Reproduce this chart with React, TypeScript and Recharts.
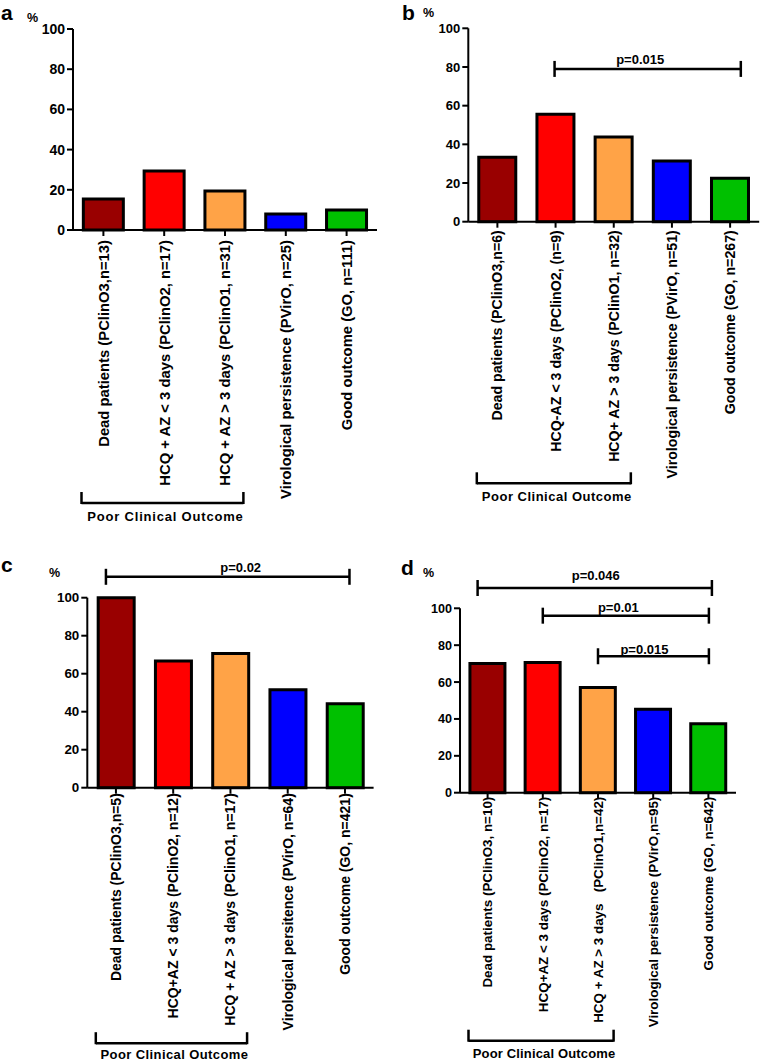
import React from 'react';
import { BarChart, Bar, XAxis, YAxis, Cell, ReferenceLine, ReferenceArea } from 'recharts';

const FONT = '"Liberation Sans", Arial, Helvetica, sans-serif';

const groupColors = ['#990000', '#ff0000', '#ffa347', '#0000ff', '#00c000'];
const yTicks = [0, 20, 40, 60, 80, 100];
const poorOutcomeLabel = 'Poor Clinical Outcome';
const poorOutcomeRange = [0, 2];

const labelsA = [
  'Dead patients (PClinO3,n=13)',
  'HCQ + AZ < 3 days (PClinO2, n=17)',
  'HCQ + AZ > 3 days (PClinO1, n=31)',
  'Virological persistence (PVirO, n=25)',
  'Good outcome (GO, n=111)',
];
const valuesA = [15.4, 29.4, 19.4, 8, 9.9];

const labelsB = [
  'Dead patients (PClinO3,n=6)',
  'HCQ-AZ < 3 days (PClinO2, (n=9)',
  'HCQ+ AZ > 3 days (PClinO1, n=32)',
  'Virological persistence (PVirO, n=51)',
  'Good outcome (GO, n=267)',
];
const valuesB = [33.3, 55.6, 43.8, 31.4, 22.5];
const bracketsB = [{ from: 1, to: 4, y: 79, label: 'p=0.015' }];

const labelsC = [
  'Dead patients (PClinO3,n=5)',
  'HCQ+AZ < 3 days (PClinO2, n=12)',
  'HCQ + AZ > 3 days (PClinO1, n=17)',
  'Virological persitence (PVirO, n=64)',
  'Good outcome (GO, n=421)',
];
const valuesC = [100, 66.7, 70.6, 51.6, 44.2];
const bracketsC = [{ from: 0, to: 4, y: 111, label: 'p=0.02' }];

const labelsD = [
  'Dead patients (PClinO3, n=10)',
  'HCQ+AZ < 3 days (PClinO2, n=17)',
  'HCQ + AZ > 3 days   (PClinO1,n=42)',
  'Virological persistence (PVirO,n=95)',
  'Good outcome (GO, n=642)',
];
const valuesD = [70, 70.6, 57.1, 45.3, 37.4];
const bracketsD = [
  { from: 0, to: 4, y: 111, label: 'p=0.046' },
  { from: 1, to: 4, y: 96, label: 'p=0.01' },
  { from: 2, to: 4, y: 74, label: 'p=0.015' },
];

type Bracket = { from: number; to: number; y: number; label: string };
type Nudge = { dx1: number; dx2: number; tx: number; ty: number };
type Layout = {
  left: number; top: number; width: number; height: number;
  plotLeft: number; plotRight: number; plotTop: number; plotBottom: number;
  tickFont: number; labelFont: number; labelOffset: number; gap: string;
  groupDrop: number; groupSpacing: number; groupTextDy: number;
};

const Y_AXIS_W = 50;

function PBracket(props: any) {
  const { x1, y1, x2, label, nudge } = props;
  const xa = x1 + nudge.dx1;
  const xb = x2 + nudge.dx2;
  const y = y1;
  return (
    <g>
      <line x1={xa} x2={xb} y1={y} y2={y} stroke="#000" strokeWidth={2.5} />
      <line x1={xa} x2={xa} y1={y - 8} y2={y + 8} stroke="#000" strokeWidth={2.5} />
      <line x1={xb} x2={xb} y1={y - 8} y2={y + 8} stroke="#000" strokeWidth={2.5} />
      <text x={(xa + xb) / 2 + nudge.tx} y={y - nudge.ty} textAnchor="middle" fontSize={13}
        fontWeight="bold" fontFamily={FONT} fill="#000">{label}</text>
    </g>
  );
}

function GroupBracket(props: any) {
  const { x, y, width, height, drop, spacing, textDy } = props;
  const xa = x + 8.5;
  const xb = x + width - 12;
  const ly = y + height + drop;
  return (
    <g>
      <line x1={xa} x2={xb} y1={ly} y2={ly} stroke="#000" strokeWidth={2.5} />
      <line x1={xa} x2={xa} y1={ly - 11} y2={ly + 1} stroke="#000" strokeWidth={2.5} />
      <line x1={xb} x2={xb} y1={ly - 11} y2={ly + 1} stroke="#000" strokeWidth={2.5} />
      <text x={(xa + xb) / 2 + 3} y={ly + textDy} textAnchor="middle" fontSize={13} fontWeight="bold"
        fontFamily={FONT} fill="#000" letterSpacing={spacing}>{poorOutcomeLabel}</text>
    </g>
  );
}

function Panel({ labels, values, brackets, nudges, layout }: {
  labels: string[]; values: number[]; brackets: Bracket[]; nudges: Nudge[]; layout: Layout;
}) {
  const data = labels.map((name, i) => ({ name, value: values[i] }));
  const margin = {
    top: layout.plotTop - layout.top,
    right: layout.left + layout.width - layout.plotRight,
    left: layout.plotLeft - layout.left - Y_AXIS_W,
    bottom: 0,
  };
  const xAxisHeight = layout.top + layout.height - layout.plotBottom;

  const renderXTick = (p: any) => {
    const ty = p.y - 8 + layout.labelOffset;
    return (
      <text x={p.x} y={ty} transform={`rotate(-90 ${p.x} ${ty})`} textAnchor="end" dy="0.36em"
        fontSize={layout.labelFont} fontWeight="bold" fontFamily={FONT} fill="#000"
        style={{ whiteSpace: 'pre' }}>{p.payload.value}</text>
    );
  };

  return (
    <div style={{ position: 'absolute', left: layout.left, top: layout.top }}>
      <BarChart width={layout.width} height={layout.height} data={data} margin={margin}
        barCategoryGap={layout.gap}>
        <XAxis dataKey="name" type="category" interval={0} height={xAxisHeight}
          tickSize={6} tickMargin={2} tick={renderXTick}
          axisLine={{ stroke: '#000', strokeWidth: 2 }} tickLine={{ stroke: '#000', strokeWidth: 2 }} />
        <YAxis width={Y_AXIS_W} domain={[0, 100]} ticks={yTicks} tickSize={6} tickMargin={2}
          tick={{ fill: '#000', fontSize: layout.tickFont, fontWeight: 'bold', fontFamily: FONT }}
          axisLine={{ stroke: '#000', strokeWidth: 2 }} tickLine={{ stroke: '#000', strokeWidth: 2 }} />
        <Bar dataKey="value" stroke="#000" strokeWidth={3} isAnimationActive={false}>
          {data.map((d, i) => (
            <Cell key={d.name} fill={groupColors[i]} />
          ))}
        </Bar>
        <ReferenceArea x1={labels[poorOutcomeRange[0]]} x2={labels[poorOutcomeRange[1]]} y1={0} y2={100}
          ifOverflow="visible"
          shape={(p: any) => (
            <GroupBracket {...p} drop={layout.groupDrop} spacing={layout.groupSpacing} textDy={layout.groupTextDy} />
          )} />
        {brackets.map((b, i) => (
          <ReferenceLine key={b.label + i} ifOverflow="visible"
            segment={[{ x: labels[b.from], y: b.y }, { x: labels[b.to], y: b.y }]}
            shape={(p: any) => <PBracket {...p} label={b.label} nudge={nudges[i]} />} />
        ))}
      </BarChart>
    </div>
  );
}

const layoutA: Layout = {
  left: 0, top: 0, width: 381, height: 535,
  plotLeft: 73, plotRight: 377, plotTop: 29, plotBottom: 230,
  tickFont: 14, labelFont: 14.8, labelOffset: 10, gap: '17%', groupDrop: 273, groupSpacing: 0.8, groupTextDy: 18,
};
const layoutB: Layout = {
  left: 381, top: 0, width: 381, height: 535,
  plotLeft: 468.3, plotRight: 759.2, plotTop: 28.3, plotBottom: 221.7,
  tickFont: 13, labelFont: 14.2, labelOffset: 8.5, gap: '18%', groupDrop: 261.6, groupSpacing: 0.5, groupTextDy: 17.5,
};
const layoutC: Layout = {
  left: 0, top: 540, width: 381, height: 524,
  plotLeft: 87.3, plotRight: 373.6, plotTop: 597.7, plotBottom: 787.7,
  tickFont: 13.4, labelFont: 14, labelOffset: 5.5, gap: '19%', groupDrop: 255.5, groupSpacing: 0.4, groupTextDy: 16,
};
const layoutD: Layout = {
  left: 381, top: 540, width: 381, height: 524,
  plotLeft: 460, plotRight: 736, plotTop: 608.3, plotBottom: 792.7,
  tickFont: 12.6, labelFont: 13.4, labelOffset: 4, gap: '18%', groupDrop: 248, groupSpacing: 0.15, groupTextDy: 17,
};

export default function App() {
  const letter = { fontSize: 21, fontWeight: 'bold' as const, fontFamily: FONT, fill: '#000' };
  const pct = { fontSize: 12.5, fontWeight: 'bold' as const, fontFamily: FONT, fill: '#000' };
  return (
    <div style={{ position: 'absolute', left: 0, top: 0, width: 762, height: 1064, background: '#fff' }}>
      <Panel labels={labelsA} values={valuesA} brackets={[]} nudges={[]} layout={layoutA} />
      <Panel labels={labelsB} values={valuesB} brackets={bracketsB}
        nudges={[{ dx1: -1, dx2: 10.7, tx: -7.5, ty: 5.3 }]} layout={layoutB} />
      <Panel labels={labelsC} values={valuesC} brackets={bracketsC}
        nudges={[{ dx1: -10, dx2: 4.5, tx: 13, ty: 5 }]} layout={layoutC} />
      <Panel labels={labelsD} values={valuesD} brackets={bracketsD}
        nudges={[
          { dx1: -10, dx2: 3.5, tx: 1, ty: 8.3 },
          { dx1: 0, dx2: 0.5, tx: -7.5, ty: 3.3 },
          { dx1: 0, dx2: 0.5, tx: -9, ty: 2.7 },
        ]} layout={layoutD} />
      <svg width={762} height={1064} style={{ position: 'absolute', left: 0, top: 0, pointerEvents: 'none' }}>
        <text x={1} y={19.5} {...letter}>a</text>
        <text x={27} y={21.5} {...pct}>%</text>
        <text x={402} y={19.5} {...letter}>b</text>
        <text x={423} y={17} {...pct}>%</text>
        <text x={1} y={572} {...letter}>c</text>
        <text x={49} y={577} {...pct}>%</text>
        <text x={401} y={575} {...letter}>d</text>
        <text x={423} y={577} {...pct}>%</text>
      </svg>
    </div>
  );
}
